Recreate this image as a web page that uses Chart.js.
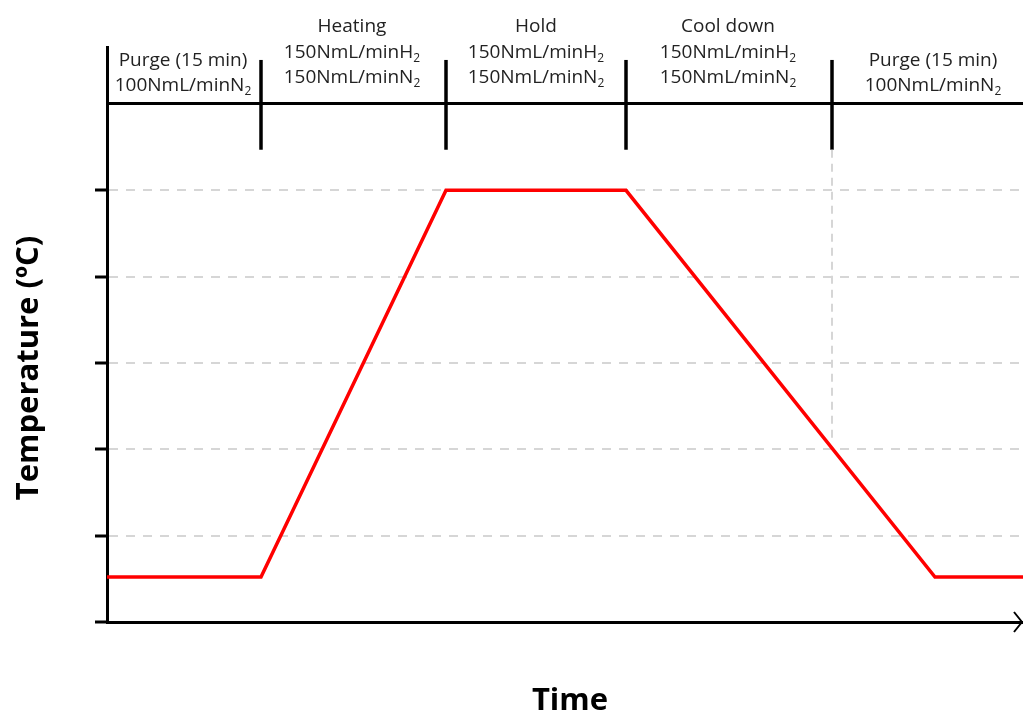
<!DOCTYPE html>
<html>
<head>
<meta charset="utf-8">
<script src="https://cdn.jsdelivr.net/npm/chart.js@4.4.1/dist/chart.umd.min.js"></script>
<style>
  html, body { margin: 0; padding: 0; background: #fff; }
  .chart-box { width: 1023px; height: 713px; }
</style>
</head>
<body>
<div class="chart-box"><canvas id="profileChart" width="1023" height="713"></canvas></div>
<script>
// temperature profile (time in arbitrary units, temperature in grid steps)
const timePoints = [0, 15.4, 33.9, 51.9, 82.8, 91.6];
const temperatures = [0.52, 0.52, 5, 5, 0.52, 0.52];

// phase boundaries and the labels above them
const phaseEnds = [15.4, 33.9, 51.9, 72.5];
const markerBottom = 5.47;
const markerTop = 6.51;
const coolDownEndTemp = 2.1;
const phaseCenters = [7.6, 24.5, 42.9, 62.1, 82.6];
const phaseNames = ["Purge (15 min)", "Heating", "Hold", "Cool down", "Purge (15 min)"];
const phaseGases = [
    ["100NmL/minN_2"],
    ["150NmL/minH_2", "150NmL/minN_2"],
    ["150NmL/minH_2", "150NmL/minN_2"],
    ["150NmL/minH_2", "150NmL/minN_2"],
    ["100NmL/minN_2"]
];

const xTitle = "Time";
const yTitle = "Temperature (ºC)";
const timeMax = 91.6;
const tempMax = 6.66;
const topLineValue = 6;

const GRID_GRAY = "#d6d6d6";
const TEXT_FONT = '"Open Sans", "Noto Sans", sans-serif';

// draws "text_2" with the part after "_" as a subscript, centred on cx
const drawSubText = (ctx, str, cx, baseline) => {
    const [main, sub = ""] = str.split("_");
    ctx.font = `19px ${TEXT_FONT}`;
    const mainW = ctx.measureText(main).width;
    ctx.font = `12px ${TEXT_FONT}`;
    const subW = ctx.measureText(sub).width;
    const left = cx - (mainW + subW) / 2;
    ctx.textAlign = "left";
    ctx.font = `19px ${TEXT_FONT}`;
    ctx.fillText(main, left, baseline);
    ctx.font = `12px ${TEXT_FONT}`;
    ctx.fillText(sub, left + mainW, baseline + 4);
};

const labelsPlugin = {
    id: "phaseLabels",
    afterDraw(chart) {
        const { ctx, chartArea, scales: { x } } = chart;
        ctx.save();
        ctx.fillStyle = "#222";
        ctx.textBaseline = "alphabetic";

        phaseNames.forEach((name, i) => {
            const lines = [name, ...phaseGases[i]];
            const cx = x.getPixelForValue(phaseCenters[i]);
            let baseline = lines.length === 3 ? 32 : 65.5;
            lines.forEach(line => {
                drawSubText(ctx, line, cx, baseline);
                baseline += 25.5;
            });
        });

        // axis titles
        ctx.fillStyle = "#000";
        ctx.font = `bold 31px ${TEXT_FONT}`;
        ctx.textAlign = "center";
        ctx.fillText(xTitle, 570, 710);
        ctx.save();
        ctx.translate(38, 368);
        ctx.rotate(-Math.PI / 2);
        ctx.fillText(yTitle, 0, 0);
        ctx.restore();

        // arrow head on the time axis
        ctx.strokeStyle = "#000";
        ctx.lineWidth = 2;
        ctx.beginPath();
        ctx.moveTo(chartArea.right - 9, chartArea.bottom - 10);
        ctx.lineTo(chartArea.right - 1, chartArea.bottom);
        ctx.lineTo(chartArea.right - 9, chartArea.bottom + 10);
        ctx.stroke();
        ctx.restore();
    }
};

const markerSets = phaseEnds.map(t => ({
    data: [{ x: t, y: markerBottom }, { x: t, y: markerTop }],
    borderColor: "#000",
    borderWidth: 3.5,
    pointRadius: 0
}));

const profileSet = {
    data: timePoints.map((t, i) => ({ x: t, y: temperatures[i] })),
    borderColor: "#ff0000",
    borderWidth: 3.5,
    pointRadius: 0,
    tension: 0
};

const dashedSet = {
    data: [
        { x: phaseEnds[3], y: markerBottom },
        { x: phaseEnds[3], y: coolDownEndTemp }
    ],
    borderColor: GRID_GRAY,
    borderWidth: 2,
    borderDash: [8, 6],
    pointRadius: 0
};

new Chart(document.getElementById("profileChart"), {
    type: "line",
    data: { datasets: [dashedSet, profileSet, ...markerSets] },
    plugins: [labelsPlugin],
    options: {
        responsive: false,
        animation: false,
        devicePixelRatio: 1,
        layout: { padding: { left: 95, top: 47, right: 0, bottom: 91 } },
        plugins: { legend: { display: false }, tooltip: { enabled: false } },
        scales: {
            x: {
                type: "linear",
                min: 0,
                max: timeMax,
                ticks: { display: false },
                grid: { display: false, drawTicks: false },
                border: { display: true, color: "#000", width: 3 }
            },
            y: {
                min: 0,
                max: tempMax,
                ticks: { display: false, stepSize: 1, includeBounds: false },
                grid: {
                    color: c => c.tick.value === topLineValue ? "#000" : (c.tick.value === 0 ? "rgba(0,0,0,0)" : GRID_GRAY),
                    lineWidth: c => c.tick.value === topLineValue ? 3 : 2,
                    tickColor: c => c.tick.value === topLineValue ? "rgba(0,0,0,0)" : "#000",
                    tickLength: 12,
                    tickWidth: 3
                },
                border: {
                    color: "#000",
                    width: 3,
                    dash: c => (c.tick && c.tick.value > 0 && c.tick.value < topLineValue) ? [9, 8] : []
                }
            }
        }
    }
});
</script>
</body>
</html>
